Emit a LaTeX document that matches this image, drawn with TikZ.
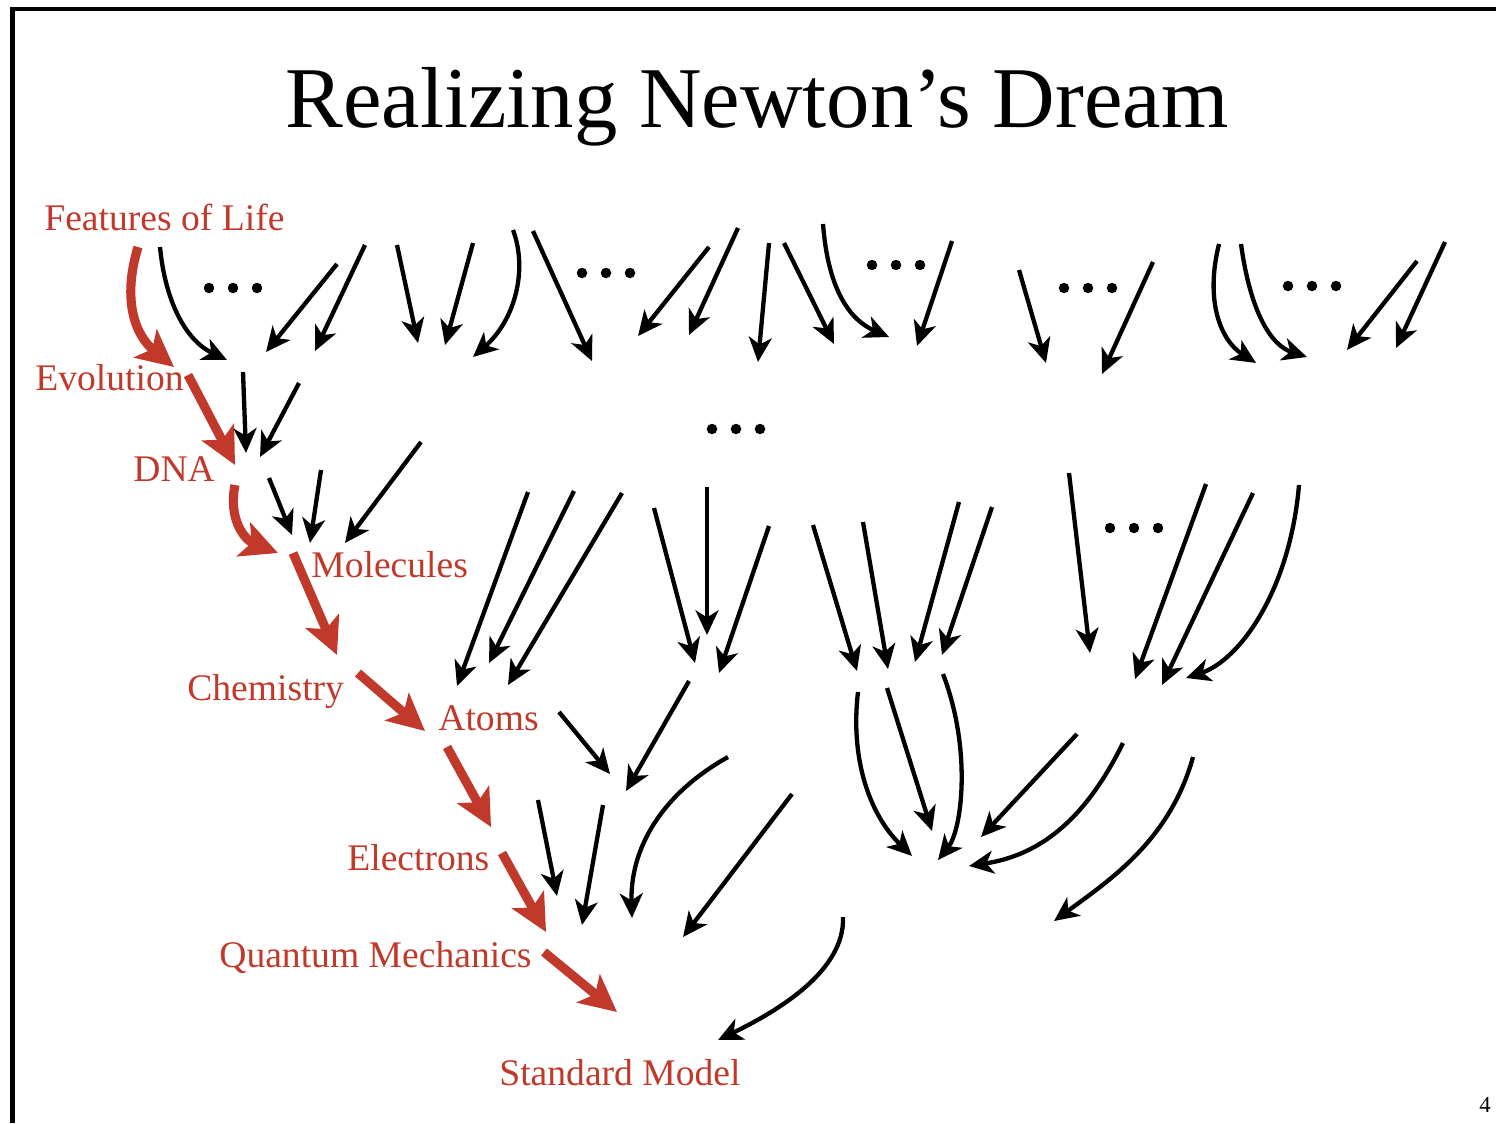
\documentclass[tikz,border=0pt]{standalone}
\usepackage{fontspec}
\setmainfont{Liberation Serif}
\usepackage{xcolor}
\usetikzlibrary{arrows.meta}
\definecolor{brick}{HTML}{C0392B}

\begin{document}
\begin{tikzpicture}[x=0.02cm, y=-0.02cm,
  lbl/.style={text=brick, font=\fontsize{21.4}{25}\selectfont, anchor=base west, inner sep=0pt},
  arr/.style={-{Stealth[length=14pt, width=13pt, inset=4pt]}, line width=2.45pt},
  rarr/.style={-{Stealth[length=21pt, width=20.5pt, inset=5pt]}, line width=5.2pt, brick},
]
\useasboundingbox (0,0) rectangle (1496,1123);

%% Slide frame and title
\draw[line width=2.3pt] (12.5,1123) -- (12.5,9) -- (1496,9);
\node[font=\fontsize{49.3}{58}\selectfont, anchor=base, inner sep=0pt] (title) at (757,127) {Realizing Newton's Dream};
\node[font=\fontsize{13}{15}\selectfont, anchor=base west, inner sep=0pt] (pnum) at (1479,1112) {4};

%% Red chain of labels
\node[lbl] (life)  at (44,230)   {Features of Life};
\node[lbl] (evol)  at (35,390)   {Evolution};
\node[lbl] (dna)   at (133,481)  {DNA};
\node[lbl] (mol)   at (311,577)  {Molecules};
\node[lbl] (chem)  at (187,700)  {Chemistry};
\node[lbl] (atoms) at (438,730)  {Atoms};
\node[lbl] (elec)  at (347,870)  {Electrons};
\node[lbl] (qm)    at (219,967)  {Quantum Mechanics};
\node[lbl] (sm)    at (499,1085) {Standard Model};

%% Red arrow ends
\coordinate (r1s) at (138,247); \coordinate (r1e) at (174,367);
\coordinate (r2s) at (188,375); \coordinate (r2e) at (235,465);
\coordinate (r3s) at (235,485); \coordinate (r3e) at (278,553);
\coordinate (r4s) at (293,553); \coordinate (r4e) at (337,655);
\coordinate (r5s) at (358,673); \coordinate (r5e) at (425,731);
\coordinate (r6s) at (447,747); \coordinate (r6e) at (491,827);
\coordinate (r7s) at (502,853); \coordinate (r7e) at (546,932);
\coordinate (r8s) at (544,952); \coordinate (r8e) at (617,1012);

\draw[rarr] (r1s) .. controls (122,300) and (135,335) .. (r1e);
\draw[rarr] (r2s) -- (r2e);
\draw[rarr] (r3s) .. controls (228,520) and (245,540) .. (r3e);
\draw[rarr] (r4s) -- (r4e);
\draw[rarr] (r5s) -- (r5e);
\draw[rarr] (r6s) -- (r6e);
\draw[rarr] (r7s) -- (r7e);
\draw[rarr] (r8s) -- (r8e);

%% Ellipses
\foreach \cx/\cy in {233/288, 606/273, 896/265, 1088/288, 1312/286, 736/429, 1134/528}
  \foreach \d in {-24,0,24}
    \fill ({\cx+\d},\cy) circle (0.105cm);

%% Straight black arrows
\foreach \ax/\ay/\bx/\by in {
    337/264/266/352, 365/245/315/351, 397/245/418/343, 473/243/445/345,
    533/231/592/361, 709/247/638/336, 738/228/689/335, 769/243/758/362,
    784/243/834/344, 952/241/917/346, 1019/270/1046/363, 1153/262/1102/374,
    1417/261/1347/350, 1445/242/1396/348,
    243/372/246/453, 299/383/260/457, 269/478/292/535, 321/470/310/543,
    421/442/345/543,
    528/492/457/686, 574/491/489/663, 622/493/508/685, 654/508/695/663,
    707/487/707/635, 769/526/719/673, 813/525/857/671, 863/522/888/669,
    959/502/915/662, 992/507/942/655, 1069/473/1090/653, 1206/484/1135/679,
    1253/493/1162/685,
    559/712/610/774, 689/681/626/791, 792/794/683/937, 538/800/557/896,
    603/805/582/925, 887/688/932/831, 1077/734/981/837}
  \draw[arr] (\ax,\ay) -- (\bx,\by);

%% Curved black arrows
\draw[arr] (160,247) .. controls (165,300) and (185,340) .. (227,360);
\draw[arr] (513,230) .. controls (528,270) and (515,320) .. (473,357);
\draw[arr] (823,224) .. controls (828,290) and (850,320) .. (889,337);
\draw[arr] (1219,244) .. controls (1205,300) and (1220,340) .. (1256,363);
\draw[arr] (1241,244) .. controls (1250,310) and (1270,345) .. (1307,357);
\draw[arr] (1299,485) .. controls (1290,590) and (1240,660) .. (1186,678);
\draw[arr] (728,757) .. controls (660,795) and (630,850) .. (632,918);
\draw[arr] (858,692) .. controls (850,760) and (870,815) .. (912,856);
\draw[arr] (943,674) .. controls (972,750) and (962,830) .. (938,860);
\draw[arr] (1123,743) .. controls (1085,820) and (1040,855) .. (969,866);
\draw[arr] (1193,757) .. controls (1170,840) and (1110,880) .. (1054,921);
\draw[arr] (843,917) .. controls (845,970) and (780,1010) .. (718,1040);

\end{tikzpicture}
\end{document}
